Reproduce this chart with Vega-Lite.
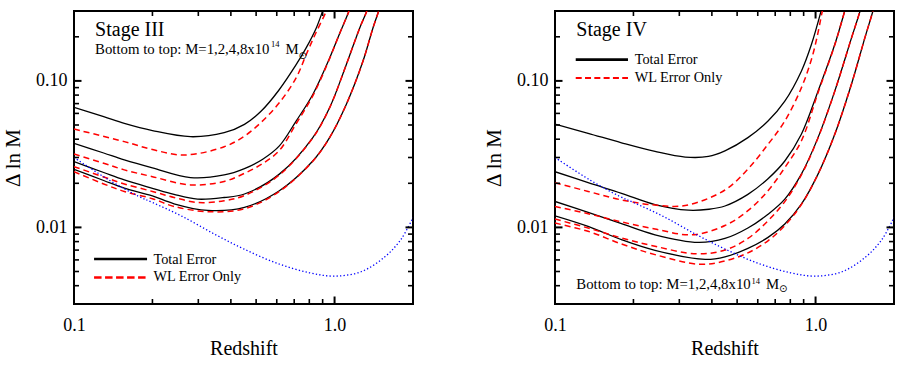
{
 "$schema": "https://vega.github.io/schema/vega-lite/v6.json",
 "background": "white",
 "padding": {"left": 1, "top": 10, "right": 5, "bottom": 5},
 "spacing": 68,
 "config": {
  "view": {"stroke": "black", "strokeWidth": 2},
  "axis": {"labelFont": "Liberation Serif", "titleFont": "Liberation Serif", "labelColor": "black", "titleColor": "black", "titleFontWeight": "normal", "grid": false, "domain": false, "labelFlush": false, "labelOverlap": false, "labelBound": false},
  "text": {"font": "Liberation Serif", "color": "black"}
 },
 "datasets": {
  "xt": [{"v":1,"c":"major","lo":0.003,"hi":0.3},{"v":0.2,"c":"minor","lo":0.003,"hi":0.3},{"v":0.3,"c":"minor","lo":0.003,"hi":0.3},{"v":0.4,"c":"minor","lo":0.003,"hi":0.3},{"v":0.5,"c":"minor","lo":0.003,"hi":0.3},{"v":0.6,"c":"minor","lo":0.003,"hi":0.3},{"v":0.7,"c":"minor","lo":0.003,"hi":0.3},{"v":0.8,"c":"minor","lo":0.003,"hi":0.3},{"v":0.9,"c":"minor","lo":0.003,"hi":0.3}],
  "yt": [{"v":0.01,"c":"major","lo":0.1,"hi":2},{"v":0.1,"c":"major","lo":0.1,"hi":2},{"v":0.004,"c":"minor","lo":0.1,"hi":2},{"v":0.005,"c":"minor","lo":0.1,"hi":2},{"v":0.006,"c":"minor","lo":0.1,"hi":2},{"v":0.007,"c":"minor","lo":0.1,"hi":2},{"v":0.008,"c":"minor","lo":0.1,"hi":2},{"v":0.009,"c":"minor","lo":0.1,"hi":2},{"v":0.02,"c":"minor","lo":0.1,"hi":2},{"v":0.03,"c":"minor","lo":0.1,"hi":2},{"v":0.04,"c":"minor","lo":0.1,"hi":2},{"v":0.05,"c":"minor","lo":0.1,"hi":2},{"v":0.06,"c":"minor","lo":0.1,"hi":2},{"v":0.07,"c":"minor","lo":0.1,"hi":2},{"v":0.08,"c":"minor","lo":0.1,"hi":2},{"v":0.09,"c":"minor","lo":0.1,"hi":2},{"v":0.2,"c":"minor","lo":0.1,"hi":2}],
  "s3": [
   {"m":8,"k":"T","x":0.1,"y":0.0659},{"m":8,"k":"T","x":0.13,"y":0.057},{"m":8,"k":"T","x":0.156,"y":0.0513},{"m":8,"k":"T","x":0.2,"y":0.0458},{"m":8,"k":"T","x":0.28,"y":0.0416},{"m":8,"k":"T","x":0.377,"y":0.0443},{"m":8,"k":"T","x":0.451,"y":0.0505},{"m":8,"k":"T","x":0.522,"y":0.062},{"m":8,"k":"T","x":0.61,"y":0.086},{"m":8,"k":"T","x":0.712,"y":0.129},{"m":8,"k":"T","x":0.778,"y":0.168},{"m":8,"k":"T","x":0.85,"y":0.229},{"m":8,"k":"T","x":0.9,"y":0.3},{"m":8,"k":"T","x":0.93,"y":0.355},
   {"m":8,"k":"W","x":0.1,"y":0.0469},{"m":8,"k":"W","x":0.156,"y":0.0385},{"m":8,"k":"W","x":0.2,"y":0.034},{"m":8,"k":"W","x":0.265,"y":0.0312},{"m":8,"k":"W","x":0.377,"y":0.0355},{"m":8,"k":"W","x":0.451,"y":0.042},{"m":8,"k":"W","x":0.522,"y":0.052},{"m":8,"k":"W","x":0.61,"y":0.07},{"m":8,"k":"W","x":0.712,"y":0.1048},{"m":8,"k":"W","x":0.778,"y":0.151},{"m":8,"k":"W","x":0.85,"y":0.215},{"m":8,"k":"W","x":0.93,"y":0.3},{"m":8,"k":"W","x":0.96,"y":0.355},
   {"m":4,"k":"T","x":0.1,"y":0.0375},{"m":4,"k":"T","x":0.13,"y":0.0322},{"m":4,"k":"T","x":0.156,"y":0.0289},{"m":4,"k":"T","x":0.2,"y":0.0255},{"m":4,"k":"T","x":0.28,"y":0.0219},{"m":4,"k":"T","x":0.377,"y":0.0228},{"m":4,"k":"T","x":0.451,"y":0.0252},{"m":4,"k":"T","x":0.53,"y":0.0292},{"m":4,"k":"T","x":0.614,"y":0.036},{"m":4,"k":"T","x":0.712,"y":0.0532},{"m":4,"k":"T","x":0.825,"y":0.0808},{"m":4,"k":"T","x":0.957,"y":0.143},{"m":4,"k":"T","x":1.045,"y":0.21},{"m":4,"k":"T","x":1.136,"y":0.3},{"m":4,"k":"T","x":1.17,"y":0.355},
   {"m":4,"k":"W","x":0.1,"y":0.0317},{"m":4,"k":"W","x":0.13,"y":0.0274},{"m":4,"k":"W","x":0.156,"y":0.0247},{"m":4,"k":"W","x":0.2,"y":0.0222},{"m":4,"k":"W","x":0.28,"y":0.0195},{"m":4,"k":"W","x":0.377,"y":0.0206},{"m":4,"k":"W","x":0.451,"y":0.0234},{"m":4,"k":"W","x":0.53,"y":0.0273},{"m":4,"k":"W","x":0.614,"y":0.0335},{"m":4,"k":"W","x":0.712,"y":0.051},{"m":4,"k":"W","x":0.825,"y":0.079},{"m":4,"k":"W","x":0.957,"y":0.142},{"m":4,"k":"W","x":1.045,"y":0.21},{"m":4,"k":"W","x":1.136,"y":0.3},{"m":4,"k":"W","x":1.17,"y":0.355},
   {"m":2,"k":"T","x":0.1,"y":0.0281},{"m":2,"k":"T","x":0.13,"y":0.0237},{"m":2,"k":"T","x":0.156,"y":0.0211},{"m":2,"k":"T","x":0.2,"y":0.0185},{"m":2,"k":"T","x":0.242,"y":0.0168},{"m":2,"k":"T","x":0.298,"y":0.0156},{"m":2,"k":"T","x":0.377,"y":0.016},{"m":2,"k":"T","x":0.451,"y":0.0169},{"m":2,"k":"T","x":0.614,"y":0.0231},{"m":2,"k":"T","x":0.825,"y":0.041},{"m":2,"k":"T","x":0.957,"y":0.0656},{"m":2,"k":"T","x":1.109,"y":0.129},{"m":2,"k":"T","x":1.248,"y":0.229},{"m":2,"k":"T","x":1.33,"y":0.3},{"m":2,"k":"T","x":1.37,"y":0.355},
   {"m":2,"k":"W","x":0.1,"y":0.026},{"m":2,"k":"W","x":0.13,"y":0.0221},{"m":2,"k":"W","x":0.156,"y":0.0198},{"m":2,"k":"W","x":0.2,"y":0.0176},{"m":2,"k":"W","x":0.242,"y":0.016},{"m":2,"k":"W","x":0.298,"y":0.0148},{"m":2,"k":"W","x":0.377,"y":0.0152},{"m":2,"k":"W","x":0.451,"y":0.0165},{"m":2,"k":"W","x":0.614,"y":0.0228},{"m":2,"k":"W","x":0.825,"y":0.0408},{"m":2,"k":"W","x":0.957,"y":0.0655},{"m":2,"k":"W","x":1.109,"y":0.129},{"m":2,"k":"W","x":1.248,"y":0.229},{"m":2,"k":"W","x":1.33,"y":0.3},{"m":2,"k":"W","x":1.37,"y":0.355},
   {"m":1,"k":"T","x":0.1,"y":0.0249},{"m":1,"k":"T","x":0.13,"y":0.0209},{"m":1,"k":"T","x":0.156,"y":0.01853},{"m":1,"k":"T","x":0.2,"y":0.0164},{"m":1,"k":"T","x":0.242,"y":0.0145},{"m":1,"k":"T","x":0.326,"y":0.01306},{"m":1,"k":"T","x":0.451,"y":0.0137},{"m":1,"k":"T","x":0.614,"y":0.0178},{"m":1,"k":"T","x":0.825,"y":0.0284},{"m":1,"k":"T","x":0.957,"y":0.041},{"m":1,"k":"T","x":1.109,"y":0.069},{"m":1,"k":"T","x":1.285,"y":0.136},{"m":1,"k":"T","x":1.403,"y":0.229},{"m":1,"k":"T","x":1.477,"y":0.3},{"m":1,"k":"T","x":1.52,"y":0.355},
   {"m":1,"k":"W","x":0.1,"y":0.024},{"m":1,"k":"W","x":0.13,"y":0.0198},{"m":1,"k":"W","x":0.156,"y":0.0176},{"m":1,"k":"W","x":0.2,"y":0.0157},{"m":1,"k":"W","x":0.242,"y":0.0139},{"m":1,"k":"W","x":0.326,"y":0.0128},{"m":1,"k":"W","x":0.451,"y":0.0134},{"m":1,"k":"W","x":0.614,"y":0.0176},{"m":1,"k":"W","x":0.825,"y":0.0283},{"m":1,"k":"W","x":0.957,"y":0.041},{"m":1,"k":"W","x":1.109,"y":0.069},{"m":1,"k":"W","x":1.285,"y":0.136},{"m":1,"k":"W","x":1.403,"y":0.229},{"m":1,"k":"W","x":1.477,"y":0.3},{"m":1,"k":"W","x":1.52,"y":0.355}
  ],
  "s4": [
   {"m":8,"k":"T","x":0.1,"y":0.0507},{"m":8,"k":"T","x":0.134,"y":0.0439},{"m":8,"k":"T","x":0.18,"y":0.0378},{"m":8,"k":"T","x":0.242,"y":0.033},{"m":8,"k":"T","x":0.316,"y":0.0302},{"m":8,"k":"T","x":0.388,"y":0.0305},{"m":8,"k":"T","x":0.449,"y":0.0333},{"m":8,"k":"T","x":0.55,"y":0.041},{"m":8,"k":"T","x":0.657,"y":0.0532},{"m":8,"k":"T","x":0.762,"y":0.0727},{"m":8,"k":"T","x":0.882,"y":0.1164},{"m":8,"k":"T","x":0.964,"y":0.177},{"m":8,"k":"T","x":1.05,"y":0.3},{"m":8,"k":"T","x":1.075,"y":0.355},
   {"m":8,"k":"W","x":0.1,"y":0.0202},{"m":8,"k":"W","x":0.134,"y":0.0176},{"m":8,"k":"W","x":0.18,"y":0.0154},{"m":8,"k":"W","x":0.242,"y":0.0142},{"m":8,"k":"W","x":0.316,"y":0.0141},{"m":8,"k":"W","x":0.449,"y":0.018},{"m":8,"k":"W","x":0.55,"y":0.025},{"m":8,"k":"W","x":0.657,"y":0.0369},{"m":8,"k":"W","x":0.762,"y":0.0532},{"m":8,"k":"W","x":0.882,"y":0.0896},{"m":8,"k":"W","x":0.964,"y":0.14},{"m":8,"k":"W","x":1.02,"y":0.21},{"m":8,"k":"W","x":1.062,"y":0.3},{"m":8,"k":"W","x":1.09,"y":0.355},
   {"m":4,"k":"T","x":0.1,"y":0.024},{"m":4,"k":"T","x":0.134,"y":0.0202},{"m":4,"k":"T","x":0.18,"y":0.0171},{"m":4,"k":"T","x":0.242,"y":0.0143},{"m":4,"k":"T","x":0.325,"y":0.0131},{"m":4,"k":"T","x":0.39,"y":0.0133},{"m":4,"k":"T","x":0.449,"y":0.014},{"m":4,"k":"T","x":0.55,"y":0.0168},{"m":4,"k":"T","x":0.657,"y":0.0215},{"m":4,"k":"T","x":0.762,"y":0.0284},{"m":4,"k":"T","x":0.882,"y":0.0432},{"m":4,"k":"T","x":1.022,"y":0.0851},{"m":4,"k":"T","x":1.185,"y":0.177},{"m":4,"k":"T","x":1.294,"y":0.3},{"m":4,"k":"T","x":1.33,"y":0.355},
   {"m":4,"k":"W","x":0.1,"y":0.0139},{"m":4,"k":"W","x":0.134,"y":0.0124},{"m":4,"k":"W","x":0.18,"y":0.0109},{"m":4,"k":"W","x":0.242,"y":0.00975},{"m":4,"k":"W","x":0.335,"y":0.0089},{"m":4,"k":"W","x":0.449,"y":0.0103},{"m":4,"k":"W","x":0.55,"y":0.013},{"m":4,"k":"W","x":0.657,"y":0.0178},{"m":4,"k":"W","x":0.762,"y":0.0256},{"m":4,"k":"W","x":0.882,"y":0.0389},{"m":4,"k":"W","x":1.022,"y":0.083},{"m":4,"k":"W","x":1.185,"y":0.176},{"m":4,"k":"W","x":1.294,"y":0.3},{"m":4,"k":"W","x":1.33,"y":0.355},
   {"m":2,"k":"T","x":0.1,"y":0.01503},{"m":2,"k":"T","x":0.134,"y":0.01265},{"m":2,"k":"T","x":0.18,"y":0.0106},{"m":2,"k":"T","x":0.242,"y":0.0089},{"m":2,"k":"T","x":0.355,"y":0.0079},{"m":2,"k":"T","x":0.449,"y":0.0084},{"m":2,"k":"T","x":0.55,"y":0.0099},{"m":2,"k":"T","x":0.657,"y":0.0123},{"m":2,"k":"T","x":0.762,"y":0.0156},{"m":2,"k":"T","x":0.882,"y":0.0231},{"m":2,"k":"T","x":1.022,"y":0.041},{"m":2,"k":"T","x":1.185,"y":0.0851},{"m":2,"k":"T","x":1.372,"y":0.195},{"m":2,"k":"T","x":1.482,"y":0.3},{"m":2,"k":"T","x":1.52,"y":0.355},
   {"m":2,"k":"W","x":0.1,"y":0.0114},{"m":2,"k":"W","x":0.134,"y":0.0099},{"m":2,"k":"W","x":0.18,"y":0.00847},{"m":2,"k":"W","x":0.242,"y":0.00743},{"m":2,"k":"W","x":0.35,"y":0.0066},{"m":2,"k":"W","x":0.449,"y":0.007},{"m":2,"k":"W","x":0.55,"y":0.0084},{"m":2,"k":"W","x":0.657,"y":0.0111},{"m":2,"k":"W","x":0.762,"y":0.015},{"m":2,"k":"W","x":0.882,"y":0.0228},{"m":2,"k":"W","x":1.022,"y":0.0408},{"m":2,"k":"W","x":1.185,"y":0.085},{"m":2,"k":"W","x":1.372,"y":0.195},{"m":2,"k":"W","x":1.482,"y":0.3},{"m":2,"k":"W","x":1.52,"y":0.355},
   {"m":1,"k":"T","x":0.1,"y":0.012},{"m":1,"k":"T","x":0.134,"y":0.01016},{"m":1,"k":"T","x":0.18,"y":0.00824},{"m":1,"k":"T","x":0.242,"y":0.00697},{"m":1,"k":"T","x":0.377,"y":0.00605},{"m":1,"k":"T","x":0.449,"y":0.0063},{"m":1,"k":"T","x":0.55,"y":0.0072},{"m":1,"k":"T","x":0.657,"y":0.00855},{"m":1,"k":"T","x":0.762,"y":0.01055},{"m":1,"k":"T","x":0.882,"y":0.0144},{"m":1,"k":"T","x":1.022,"y":0.0231},{"m":1,"k":"T","x":1.185,"y":0.0432},{"m":1,"k":"T","x":1.372,"y":0.0945},{"m":1,"k":"T","x":1.545,"y":0.196},{"m":1,"k":"T","x":1.66,"y":0.3},{"m":1,"k":"T","x":1.7,"y":0.355},
   {"m":1,"k":"W","x":0.1,"y":0.0107},{"m":1,"k":"W","x":0.134,"y":0.0094},{"m":1,"k":"W","x":0.18,"y":0.0077},{"m":1,"k":"W","x":0.242,"y":0.00652},{"m":1,"k":"W","x":0.36,"y":0.0056},{"m":1,"k":"W","x":0.449,"y":0.0059},{"m":1,"k":"W","x":0.55,"y":0.0067},{"m":1,"k":"W","x":0.657,"y":0.0081},{"m":1,"k":"W","x":0.762,"y":0.0103},{"m":1,"k":"W","x":0.882,"y":0.0143},{"m":1,"k":"W","x":1.022,"y":0.0231},{"m":1,"k":"W","x":1.185,"y":0.0432},{"m":1,"k":"W","x":1.372,"y":0.0945},{"m":1,"k":"W","x":1.545,"y":0.196},{"m":1,"k":"W","x":1.66,"y":0.3},{"m":1,"k":"W","x":1.7,"y":0.355}
  ],
  "ideal": [
   {"x":0.1,"y":0.03},{"x":0.136,"y":0.0211},{"x":0.177,"y":0.0163},{"x":0.2,"y":0.0148},{"x":0.26,"y":0.0119},{"x":0.35,"y":0.0089},{"x":0.45,"y":0.0071},{"x":0.6,"y":0.0057},{"x":0.8,"y":0.0049},{"x":1.0,"y":0.00465},{"x":1.27,"y":0.005},{"x":1.56,"y":0.0063},{"x":1.8,"y":0.0083},{"x":2.0,"y":0.0117}
  ]
 },
 "hconcat": [
  {
   "width": 339, "height": 293,
   "resolve": {"axis": {"x": "independent", "y": "independent"}},
   "layer": [
    {
     "data": {"name": "s3"},
     "transform": [{"filter": "datum.k == 'T'"}],
     "mark": {"type": "line", "color": "black", "strokeWidth": 1.3, "interpolate": "catmull-rom", "clip": true},
     "encoding": {
      "x": {"field": "x", "type": "quantitative", "scale": {"type": "log", "domain": [0.1, 2], "nice": false}, "axis": {"orient": "bottom", "values": [0.1, 1], "ticks": false, "labelExpr": "datum.value >= 0.5 ? '1.0' : '0.1'", "labelPadding": 12, "labelFontSize": 18, "title": "Redshift", "titleFontSize": 20, "titlePadding": 4}},
      "y": {"field": "y", "type": "quantitative", "scale": {"type": "log", "domain": [0.003, 0.3], "nice": false}, "axis": {"orient": "left", "values": [0.01, 0.1], "ticks": false, "labelExpr": "datum.value >= 0.05 ? '0.10' : '0.01'", "labelPadding": 7, "labelFontSize": 18, "title": "Δ ln M", "titleFontSize": 21, "titlePadding": 12}},
      "detail": {"field": "m", "type": "nominal"}
     }
    },
    {
     "data": {"name": "s3"},
     "transform": [{"filter": "datum.k == 'W'"}],
     "mark": {"type": "line", "color": "#ff0000", "strokeWidth": 1.5, "strokeDash": [6, 4], "interpolate": "catmull-rom", "clip": true},
     "encoding": {"x": {"field": "x", "type": "quantitative", "axis": null}, "y": {"field": "y", "type": "quantitative", "axis": null}, "detail": {"field": "m", "type": "nominal"}}
    },
    {
     "data": {"name": "ideal"},
     "mark": {"type": "line", "color": "#0000ff", "strokeWidth": 1.3, "strokeDash": [1.3, 2.2], "interpolate": "catmull-rom", "clip": true},
     "encoding": {"x": {"field": "x", "type": "quantitative", "axis": null}, "y": {"field": "y", "type": "quantitative", "axis": null}}
    },
    {
     "data": {"name": "xt"}, "transform": [{"filter": "datum.c == 'major'"}],
     "mark": {"type": "tick", "orient": "vertical", "size": 15, "thickness": 2, "color": "black", "opacity": 1, "clip": true},
     "encoding": {"x": {"field": "v", "type": "quantitative", "axis": null}, "y": {"field": "lo", "type": "quantitative", "axis": null}}
    },
    {
     "data": {"name": "xt"}, "transform": [{"filter": "datum.c == 'minor'"}],
     "mark": {"type": "tick", "orient": "vertical", "size": 10, "thickness": 1.6, "color": "black", "opacity": 1, "clip": true},
     "encoding": {"x": {"field": "v", "type": "quantitative", "axis": null}, "y": {"field": "lo", "type": "quantitative", "axis": null}}
    },
    {
     "data": {"name": "xt"}, "transform": [{"filter": "datum.c == 'major'"}],
     "mark": {"type": "tick", "orient": "vertical", "size": 15, "thickness": 2, "color": "black", "opacity": 1, "clip": true},
     "encoding": {"x": {"field": "v", "type": "quantitative", "axis": null}, "y": {"field": "hi", "type": "quantitative", "axis": null}}
    },
    {
     "data": {"name": "xt"}, "transform": [{"filter": "datum.c == 'minor'"}],
     "mark": {"type": "tick", "orient": "vertical", "size": 10, "thickness": 1.6, "color": "black", "opacity": 1, "clip": true},
     "encoding": {"x": {"field": "v", "type": "quantitative", "axis": null}, "y": {"field": "hi", "type": "quantitative", "axis": null}}
    },
    {
     "data": {"name": "yt"}, "transform": [{"filter": "datum.c == 'major'"}],
     "mark": {"type": "tick", "orient": "horizontal", "size": 15, "thickness": 2, "color": "black", "opacity": 1, "clip": true},
     "encoding": {"y": {"field": "v", "type": "quantitative", "axis": null}, "x": {"field": "lo", "type": "quantitative", "axis": null}}
    },
    {
     "data": {"name": "yt"}, "transform": [{"filter": "datum.c == 'minor'"}],
     "mark": {"type": "tick", "orient": "horizontal", "size": 10, "thickness": 1.6, "color": "black", "opacity": 1, "clip": true},
     "encoding": {"y": {"field": "v", "type": "quantitative", "axis": null}, "x": {"field": "lo", "type": "quantitative", "axis": null}}
    },
    {
     "data": {"name": "yt"}, "transform": [{"filter": "datum.c == 'major'"}],
     "mark": {"type": "tick", "orient": "horizontal", "size": 15, "thickness": 2, "color": "black", "opacity": 1, "clip": true},
     "encoding": {"y": {"field": "v", "type": "quantitative", "axis": null}, "x": {"field": "hi", "type": "quantitative", "axis": null}}
    },
    {
     "data": {"name": "yt"}, "transform": [{"filter": "datum.c == 'minor'"}],
     "mark": {"type": "tick", "orient": "horizontal", "size": 10, "thickness": 1.6, "color": "black", "opacity": 1, "clip": true},
     "encoding": {"y": {"field": "v", "type": "quantitative", "axis": null}, "x": {"field": "hi", "type": "quantitative", "axis": null}}
    },
    {
     "data": {"values": [{"x": 0.1194, "y": 0.00608}, {"x": 0.1907, "y": 0.00608}]},
     "mark": {"type": "line", "color": "black", "strokeWidth": 2.4},
     "encoding": {"x": {"field": "x", "type": "quantitative", "axis": null}, "y": {"field": "y", "type": "quantitative", "axis": null}}
    },
    {
     "data": {"values": [{"x": 0.1194, "y": 0.00455}, {"x": 0.1907, "y": 0.00455}]},
     "mark": {"type": "line", "color": "#ff0000", "strokeWidth": 2.7, "strokeDash": [7.5, 3.5]},
     "encoding": {"x": {"field": "x", "type": "quantitative", "axis": null}, "y": {"field": "y", "type": "quantitative", "axis": null}}
    },
    {
     "data": {"values": [{"x": 0.1205, "y": 0.2014, "t": "Stage III"}]},
     "mark": {"type": "text", "fontSize": 20, "align": "left", "baseline": "alphabetic"},
     "encoding": {"x": {"field": "x", "type": "quantitative", "axis": null}, "y": {"field": "y", "type": "quantitative", "axis": null}, "text": {"field": "t"}}
    },
    {
     "data": {"values": [{"x": 0.1205, "y": 0.152, "t": "Bottom to top: M=1,2,4,8x10"}, {"x": 0.648, "y": 0.152, "t": "M"}]},
     "mark": {"type": "text", "fontSize": 14.8, "align": "left", "baseline": "alphabetic"},
     "encoding": {"x": {"field": "x", "type": "quantitative", "axis": null}, "y": {"field": "y", "type": "quantitative", "axis": null}, "text": {"field": "t"}}
    },
    {
     "data": {"values": [{"x": 0.2018, "y": 0.00562, "t": "Total Error"}, {"x": 0.2018, "y": 0.00434, "t": "WL Error Only"}]},
     "mark": {"type": "text", "fontSize": 14.3, "align": "left", "baseline": "alphabetic"},
     "encoding": {"x": {"field": "x", "type": "quantitative", "axis": null}, "y": {"field": "y", "type": "quantitative", "axis": null}, "text": {"field": "t"}}
    },
    {
     "data": {"values": [{"x": 0.57, "y": 0.17, "t": "14"}]},
     "mark": {"type": "text", "fontSize": 8.5, "align": "left", "baseline": "alphabetic"},
     "encoding": {"x": {"field": "x", "type": "quantitative", "axis": null}, "y": {"field": "y", "type": "quantitative", "axis": null}, "text": {"field": "t"}}
    },
    {
     "data": {"values": [{"x": 0.727, "y": 0.148, "t": "⊙"}]},
     "mark": {"type": "text", "fontSize": 10, "font": "DejaVu Sans", "align": "left", "baseline": "middle"},
     "encoding": {"x": {"field": "x", "type": "quantitative", "axis": null}, "y": {"field": "y", "type": "quantitative", "axis": null}, "text": {"field": "t"}}
    }
   ]
  },
  {
   "width": 339, "height": 293,
   "resolve": {"axis": {"x": "independent", "y": "independent"}},
   "layer": [
    {
     "data": {"name": "s4"},
     "transform": [{"filter": "datum.k == 'T'"}],
     "mark": {"type": "line", "color": "black", "strokeWidth": 1.3, "interpolate": "catmull-rom", "clip": true},
     "encoding": {
      "x": {"field": "x", "type": "quantitative", "scale": {"type": "log", "domain": [0.1, 2], "nice": false}, "axis": {"orient": "bottom", "values": [0.1, 1], "ticks": false, "labelExpr": "datum.value >= 0.5 ? '1.0' : '0.1'", "labelPadding": 12, "labelFontSize": 18, "title": "Redshift", "titleFontSize": 20, "titlePadding": 4}},
      "y": {"field": "y", "type": "quantitative", "scale": {"type": "log", "domain": [0.003, 0.3], "nice": false}, "axis": {"orient": "left", "values": [0.01, 0.1], "ticks": false, "labelExpr": "datum.value >= 0.05 ? '0.10' : '0.01'", "labelPadding": 7, "labelFontSize": 18, "title": "Δ ln M", "titleFontSize": 21, "titlePadding": 12}},
      "detail": {"field": "m", "type": "nominal"}
     }
    },
    {
     "data": {"name": "s4"},
     "transform": [{"filter": "datum.k == 'W'"}],
     "mark": {"type": "line", "color": "#ff0000", "strokeWidth": 1.5, "strokeDash": [6, 4], "interpolate": "catmull-rom", "clip": true},
     "encoding": {"x": {"field": "x", "type": "quantitative", "axis": null}, "y": {"field": "y", "type": "quantitative", "axis": null}, "detail": {"field": "m", "type": "nominal"}}
    },
    {
     "data": {"name": "ideal"},
     "mark": {"type": "line", "color": "#0000ff", "strokeWidth": 1.3, "strokeDash": [1.3, 2.2], "interpolate": "catmull-rom", "clip": true},
     "encoding": {"x": {"field": "x", "type": "quantitative", "axis": null}, "y": {"field": "y", "type": "quantitative", "axis": null}}
    },
    {
     "data": {"name": "xt"}, "transform": [{"filter": "datum.c == 'major'"}],
     "mark": {"type": "tick", "orient": "vertical", "size": 15, "thickness": 2, "color": "black", "opacity": 1, "clip": true},
     "encoding": {"x": {"field": "v", "type": "quantitative", "axis": null}, "y": {"field": "lo", "type": "quantitative", "axis": null}}
    },
    {
     "data": {"name": "xt"}, "transform": [{"filter": "datum.c == 'minor'"}],
     "mark": {"type": "tick", "orient": "vertical", "size": 10, "thickness": 1.6, "color": "black", "opacity": 1, "clip": true},
     "encoding": {"x": {"field": "v", "type": "quantitative", "axis": null}, "y": {"field": "lo", "type": "quantitative", "axis": null}}
    },
    {
     "data": {"name": "xt"}, "transform": [{"filter": "datum.c == 'major'"}],
     "mark": {"type": "tick", "orient": "vertical", "size": 15, "thickness": 2, "color": "black", "opacity": 1, "clip": true},
     "encoding": {"x": {"field": "v", "type": "quantitative", "axis": null}, "y": {"field": "hi", "type": "quantitative", "axis": null}}
    },
    {
     "data": {"name": "xt"}, "transform": [{"filter": "datum.c == 'minor'"}],
     "mark": {"type": "tick", "orient": "vertical", "size": 10, "thickness": 1.6, "color": "black", "opacity": 1, "clip": true},
     "encoding": {"x": {"field": "v", "type": "quantitative", "axis": null}, "y": {"field": "hi", "type": "quantitative", "axis": null}}
    },
    {
     "data": {"name": "yt"}, "transform": [{"filter": "datum.c == 'major'"}],
     "mark": {"type": "tick", "orient": "horizontal", "size": 15, "thickness": 2, "color": "black", "opacity": 1, "clip": true},
     "encoding": {"y": {"field": "v", "type": "quantitative", "axis": null}, "x": {"field": "lo", "type": "quantitative", "axis": null}}
    },
    {
     "data": {"name": "yt"}, "transform": [{"filter": "datum.c == 'minor'"}],
     "mark": {"type": "tick", "orient": "horizontal", "size": 10, "thickness": 1.6, "color": "black", "opacity": 1, "clip": true},
     "encoding": {"y": {"field": "v", "type": "quantitative", "axis": null}, "x": {"field": "lo", "type": "quantitative", "axis": null}}
    },
    {
     "data": {"name": "yt"}, "transform": [{"filter": "datum.c == 'major'"}],
     "mark": {"type": "tick", "orient": "horizontal", "size": 15, "thickness": 2, "color": "black", "opacity": 1, "clip": true},
     "encoding": {"y": {"field": "v", "type": "quantitative", "axis": null}, "x": {"field": "hi", "type": "quantitative", "axis": null}}
    },
    {
     "data": {"name": "yt"}, "transform": [{"filter": "datum.c == 'minor'"}],
     "mark": {"type": "tick", "orient": "horizontal", "size": 10, "thickness": 1.6, "color": "black", "opacity": 1, "clip": true},
     "encoding": {"y": {"field": "v", "type": "quantitative", "axis": null}, "x": {"field": "hi", "type": "quantitative", "axis": null}}
    },
    {
     "data": {"values": [{"x": 0.1201, "y": 0.1398}, {"x": 0.1906, "y": 0.1398}]},
     "mark": {"type": "line", "color": "black", "strokeWidth": 2.6},
     "encoding": {"x": {"field": "x", "type": "quantitative", "axis": null}, "y": {"field": "y", "type": "quantitative", "axis": null}}
    },
    {
     "data": {"values": [{"x": 0.1201, "y": 0.1048}, {"x": 0.1906, "y": 0.1048}]},
     "mark": {"type": "line", "color": "#ff0000", "strokeWidth": 2, "strokeDash": [6, 3.3]},
     "encoding": {"x": {"field": "x", "type": "quantitative", "axis": null}, "y": {"field": "y", "type": "quantitative", "axis": null}}
    },
    {
     "data": {"values": [{"x": 0.1207, "y": 0.2014, "t": "Stage IV"}]},
     "mark": {"type": "text", "fontSize": 20, "align": "left", "baseline": "alphabetic"},
     "encoding": {"x": {"field": "x", "type": "quantitative", "axis": null}, "y": {"field": "y", "type": "quantitative", "axis": null}, "text": {"field": "t"}}
    },
    {
     "data": {"values": [{"x": 0.1207, "y": 0.00377, "t": "Bottom to top: M=1,2,4,8x10"}, {"x": 0.6456, "y": 0.00377, "t": "M"}]},
     "mark": {"type": "text", "fontSize": 14.8, "align": "left", "baseline": "alphabetic"},
     "encoding": {"x": {"field": "x", "type": "quantitative", "axis": null}, "y": {"field": "y", "type": "quantitative", "axis": null}, "text": {"field": "t"}}
    },
    {
     "data": {"values": [{"x": 0.2022, "y": 0.1313, "t": "Total Error"}, {"x": 0.2022, "y": 0.0984, "t": "WL Error Only"}]},
     "mark": {"type": "text", "fontSize": 14.3, "align": "left", "baseline": "alphabetic"},
     "encoding": {"x": {"field": "x", "type": "quantitative", "axis": null}, "y": {"field": "y", "type": "quantitative", "axis": null}, "text": {"field": "t"}}
    },
    {
     "data": {"values": [{"x": 0.568, "y": 0.00408, "t": "14"}]},
     "mark": {"type": "text", "fontSize": 8.5, "align": "left", "baseline": "alphabetic"},
     "encoding": {"x": {"field": "x", "type": "quantitative", "axis": null}, "y": {"field": "y", "type": "quantitative", "axis": null}, "text": {"field": "t"}}
    },
    {
     "data": {"values": [{"x": 0.7244, "y": 0.00381, "t": "⊙"}]},
     "mark": {"type": "text", "fontSize": 10, "font": "DejaVu Sans", "align": "left", "baseline": "middle"},
     "encoding": {"x": {"field": "x", "type": "quantitative", "axis": null}, "y": {"field": "y", "type": "quantitative", "axis": null}, "text": {"field": "t"}}
    }
   ]
  }
 ]
}
